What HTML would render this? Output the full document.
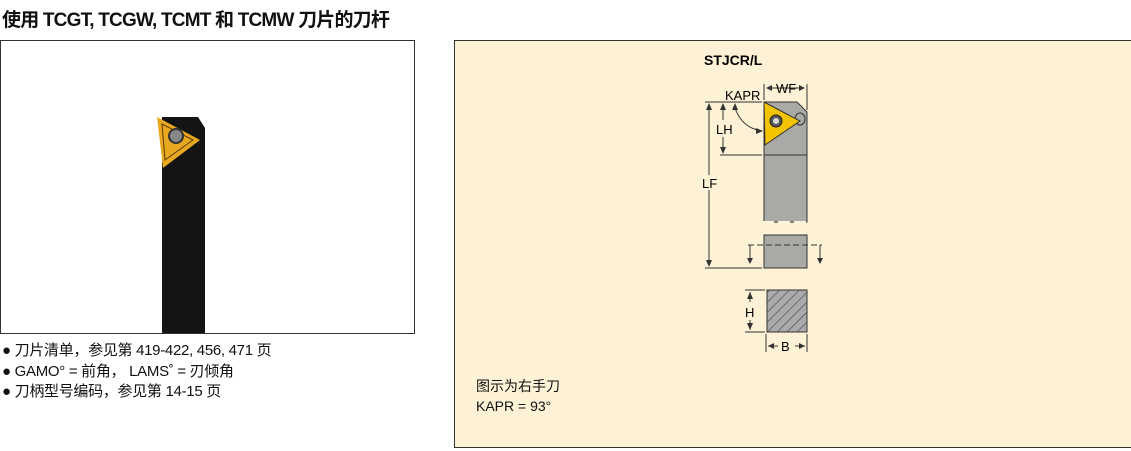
<!DOCTYPE html>
<html><head><meta charset="utf-8"><style>
body{margin:0;width:1131px;height:451px;background:#fff;position:relative;overflow:hidden;font-family:"Liberation Sans","Noto Sans CJK SC",sans-serif;color:#111}
.t{position:absolute;white-space:nowrap}
</style></head><body>
<div class="t" style="left:2px;top:5px;font-size:19px;font-weight:bold;letter-spacing:-0.8px">使用 TCGT, TCGW, TCMT 和 TCMW 刀片的刀杆</div>
<div style="position:absolute;left:0;top:40px;width:413px;height:292px;border:1px solid #333"></div>
<svg style="position:absolute;left:0;top:0" width="1131" height="451">
<polygon points="162,117 198,117 205,128 205,333 162,333" fill="#141414"/>
<polygon points="157,117 200,140 163,168" fill="#e8a820"/>
<polygon points="162,124 193,140 165,160" fill="none" stroke="#5a3a00" stroke-width="1"/>
<circle cx="176" cy="136" r="7" fill="#888" stroke="#333" stroke-width="2"/>
</svg>
<div class="t" style="left:2px;top:341px;font-size:15px;line-height:20.5px;letter-spacing:-0.3px">● 刀片清单，参见第 419-422, 456, 471 页<br>● GAMO° = 前角， LAMS˚ = 刃倾角<br>● 刀柄型号编码，参见第 14-15 页</div>
<div style="position:absolute;left:454px;top:40px;width:680px;height:406px;border:1px solid #333;background:#fdf2d5"></div>
<svg style="position:absolute;left:0;top:0" width="1131" height="451" font-family="Liberation Sans,sans-serif">
<defs><pattern id="h" width="7" height="7" patternUnits="userSpaceOnUse" patternTransform="rotate(45)"><rect width="7" height="7" fill="#aaa"/><line x1="0" y1="0" x2="0" y2="7" stroke="#444" stroke-width="1.2"/></pattern></defs>
<text x="704" y="65" font-size="14" font-weight="bold">STJCR/L</text>
<!-- holder -->
<polygon points="764,102 797,102 807,112 807,222 764,222" fill="#a9aaa6" stroke="#333" stroke-width="1"/>
<line x1="764" y1="155" x2="807" y2="155" stroke="#333"/>
<ellipse cx="800" cy="119" rx="5" ry="6" fill="none" stroke="#333"/>
<polygon points="764,102 800,121 765,145" fill="#f5c400" stroke="#333"/>
<circle cx="776" cy="121" r="6" fill="#555" stroke="#222"/><circle cx="776" cy="121" r="3" fill="#ddd"/>
<line x1="762" y1="222" x2="809" y2="222" stroke="#fdf2d5" stroke-width="2" stroke-dasharray="12,4"/>
<rect x="764" y="235" width="43" height="33" fill="#a9aaa6" stroke="#333"/>
<line x1="748" y1="245" x2="822" y2="245" stroke="#333" stroke-dasharray="6,3"/>
<line x1="750" y1="245" x2="750" y2="262" stroke="#333"/><polygon points="747,258 753,258 750,264" fill="#333"/>
<line x1="820" y1="245" x2="820" y2="262" stroke="#333"/><polygon points="817,258 823,258 820,264" fill="#333"/>
<!-- dims -->
<g stroke="#333" stroke-width="1" fill="none">
<line x1="705" y1="102" x2="762" y2="102"/><line x1="720" y1="155" x2="762" y2="155"/><line x1="705" y1="268" x2="762" y2="268"/>
<line x1="709" y1="104" x2="709" y2="175"/><line x1="709" y1="190" x2="709" y2="266"/>
<line x1="723" y1="104" x2="723" y2="120"/><line x1="723" y1="137" x2="723" y2="153"/>
<line x1="764" y1="84" x2="764" y2="100"/><line x1="807" y1="84" x2="807" y2="110"/>
<path d="M735,108 Q742,128 762,131"/>
<line x1="745" y1="290" x2="765" y2="290"/><line x1="745" y1="332" x2="765" y2="332"/>
<line x1="750" y1="292" x2="750" y2="302"/><line x1="750" y1="320" x2="750" y2="330"/>
<line x1="766" y1="334" x2="766" y2="352"/><line x1="807" y1="334" x2="807" y2="352"/>
<line x1="768" y1="346" x2="778" y2="346"/><line x1="795" y1="346" x2="805" y2="346"/>
</g>
<g fill="#333">
<polygon points="706,110 712,110 709,103"/><polygon points="706,260 712,260 709,267"/>
<polygon points="720,110 726,110 723,103"/><polygon points="720,147 726,147 723,154"/>
<polygon points="732,110 738,110 735,103"/><polygon points="756,128 756,134 763,131"/>
<polygon points="766,88 772,85 772,91"/><polygon points="805,88 799,85 799,91"/>
<polygon points="747,299 753,299 750,292"/><polygon points="747,323 753,323 750,330"/>
<polygon points="768,346 774,343 774,349"/><polygon points="805,346 799,343 799,349"/>
</g>
<line x1="771" y1="88" x2="800" y2="88" stroke="#333"/>
<text x="776" y="93" font-size="13">WF</text>
<text x="725" y="100" font-size="13">KAPR</text>
<text x="716" y="134" font-size="13">LH</text>
<text x="702" y="188" font-size="13">LF</text>
<text x="745" y="317" font-size="13">H</text>
<text x="781" y="351" font-size="13">B</text>
<rect x="767" y="290" width="40" height="42" fill="url(#h)" stroke="#333"/>
</svg>
<div class="t" style="left:476px;top:376px;font-size:14px;line-height:20px">图示为右手刀<br>KAPR = 93°</div>
</body></html>
